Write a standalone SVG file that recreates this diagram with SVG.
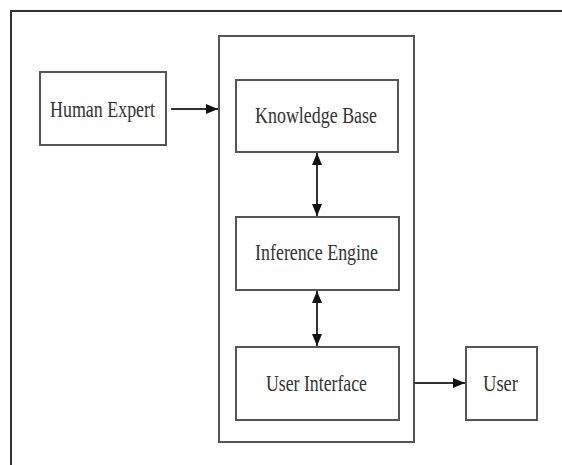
<svg xmlns="http://www.w3.org/2000/svg" width="562" height="465" viewBox="0 0 562 465">
<style>
.box{fill:#fff;stroke:#555;stroke-width:2}
.frame{fill:none;stroke:#333;stroke-width:2}
.lbl{font-family:"Liberation Serif","Times New Roman",serif;font-size:24px;fill:#333;text-anchor:start}
.conn{stroke:#333;stroke-width:2;fill:none}
</style>
<defs>
<marker id="ah" viewBox="0 0 12 10" refX="12" refY="5" markerWidth="12" markerHeight="10" markerUnits="userSpaceOnUse" orient="auto-start-reverse">
<path d="M0,0 L12,5 L0,10 Z" fill="#111"/>
</marker>
</defs>
<rect width="562" height="465" fill="#fff"/>
<rect class="frame" x="11" y="11" width="600" height="500"/>
<g id="system"><rect class="box" x="219" y="36" width="195" height="406"/></g>
<g id="human-expert"><rect class="box" x="40" y="72" width="126" height="73"/><text class="lbl" x="50" y="117" textLength="105" lengthAdjust="spacingAndGlyphs">Human Expert</text></g>
<g id="knowledge-base"><rect class="box" x="236" y="80" width="162" height="72"/><text class="lbl" x="255" y="123" textLength="122" lengthAdjust="spacingAndGlyphs">Knowledge Base</text></g>
<g id="inference-engine"><rect class="box" x="236" y="217" width="163" height="73"/><text class="lbl" x="255" y="260" textLength="123" lengthAdjust="spacingAndGlyphs">Inference Engine</text></g>
<g id="user-interface"><rect class="box" x="236" y="347" width="163" height="73"/><text class="lbl" x="266" y="391" textLength="101" lengthAdjust="spacingAndGlyphs">User Interface</text></g>
<g id="user"><rect class="box" x="466" y="347" width="71" height="73"/><text class="lbl" x="483" y="391" textLength="35" lengthAdjust="spacingAndGlyphs">User</text></g>
<g id="connectors">
<line class="conn" x1="171" y1="109" x2="218" y2="109" marker-end="url(#ah)"/>
<line class="conn" x1="317" y1="153" x2="317" y2="216" marker-start="url(#ah)" marker-end="url(#ah)"/>
<line class="conn" x1="317" y1="291" x2="317" y2="346" marker-start="url(#ah)" marker-end="url(#ah)"/>
<line class="conn" x1="414" y1="383" x2="465" y2="383" marker-end="url(#ah)"/>
</g>
</svg>
